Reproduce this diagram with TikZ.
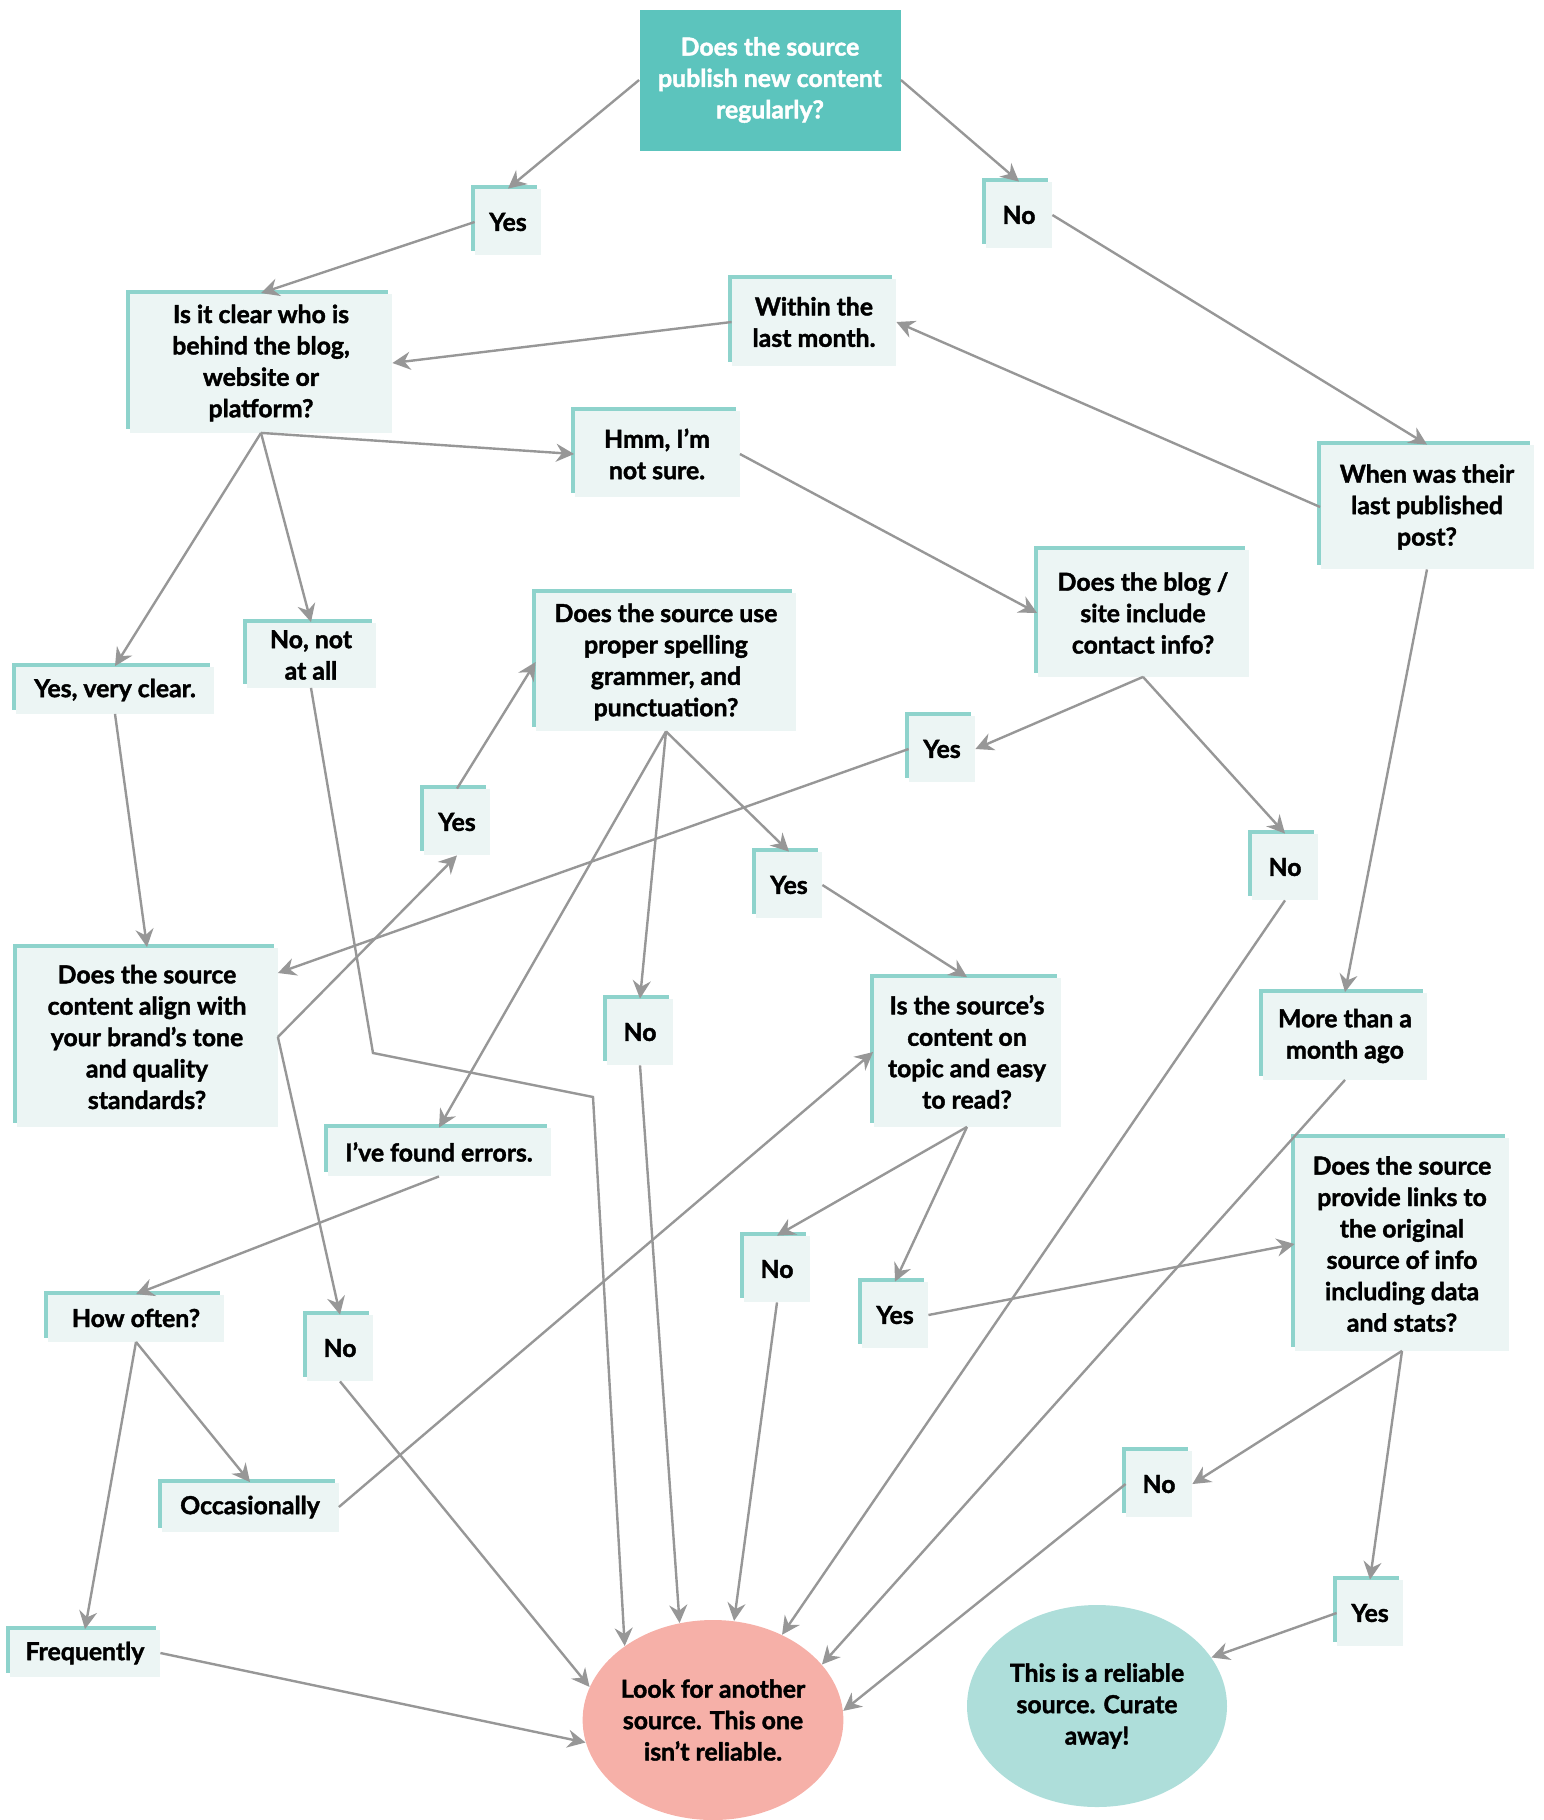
\documentclass[tikz,border=0pt]{standalone}
\usepackage{fontspec}
\setmainfont{Lato}[BoldFeatures={FakeBold=1.6}]
\usetikzlibrary{arrows.meta,shapes.geometric,shadows}
\definecolor{tealbox}{HTML}{5CC4BD}
\definecolor{tealline}{HTML}{8ED3CC}
\definecolor{palebox}{HTML}{ECF5F4}
\definecolor{redend}{HTML}{F6B0A8}
\definecolor{greenend}{HTML}{AEDEDA}
\definecolor{arrowgray}{HTML}{979797}
\tikzset{
  box/.style={rectangle, fill=palebox, inner sep=0pt, align=center,
    font=\fontsize{12.4}{15.7}\selectfont\bfseries,
    general shadow={fill=tealline, shadow xshift=-2pt, shadow yshift=2pt}},
  ans/.style={box, minimum width=33pt, minimum height=33pt},
  endbox/.style={ellipse, inner sep=0pt, align=center,
    font=\fontsize{12.4}{15.7}\selectfont\bfseries},
  link/.style={draw=arrowgray, line width=1.2pt,
    -{Stealth[length=9pt,width=9pt,inset=3pt]}},
}

\begin{document}
\begin{tikzpicture}[x=0.5pt,y=-0.5pt]
\useasboundingbox (0,0) rectangle (1543,1820);

% questions
\node[rectangle, fill=tealbox, text=white, inner sep=0pt, align=center,
  font=\fontsize{12.4}{15.7}\selectfont\bfseries,
  minimum width=130.5pt, minimum height=70.5pt] (q1) at (770,80)
  {Does the source\\publish new content\\regularly?};
\node[box, minimum width=131pt, minimum height=69.5pt] (qwho) at (261,363)
  {Is it clear who is\\behind the blog,\\website or\\platform?};
\node[box, minimum width=106.5pt, minimum height=62pt] (qlast) at (1427,507)
  {When was their\\last published\\post?};
\node[box, minimum width=105.5pt, minimum height=63.5pt] (qcontact) at (1143,613)
  {Does the blog /\\site include\\contact info?};
\node[box, minimum width=130pt, minimum height=69pt] (qspell) at (666,662)
  {Does the source use\\proper spelling\\grammer, and\\punctuation?};
\node[box, minimum width=130.5pt, minimum height=89.5pt] (qalign) at (147,1037)
  {Does the source\\content align with\\your brand’s tone\\and quality\\standards?};
\node[box, minimum width=93.5pt, minimum height=74.5pt] (qtopic) at (967,1052)
  {Is the source’s\\content on\\topic and easy\\to read?};
\node[box, minimum width=107pt, minimum height=106.5pt] (qlinks) at (1402,1244)
  {Does the source\\provide links to\\the original\\source of info\\including data\\and stats?};

% answers
\node[ans] (yes1) at (508,222) {Yes};
\node[ans] (no1) at (1019,215) {No};
\node[box, minimum width=82pt, minimum height=43.5pt] (within) at (814,322)
  {Within the\\last month.};
\node[box, minimum width=82.5pt, minimum height=43pt] (hmm) at (657,454)
  {Hmm, I’m\\not sure.};
\node[box, minimum width=99pt, minimum height=23.5pt] (yesclear) at (115,690)
  {Yes, very clear.};
\node[box, minimum width=64.5pt, minimum height=32.5pt] (nonot) at (311,655)
  {No, not\\at all};
\node[ans] (yes3) at (942,749) {Yes};
\node[ans] (yes2) at (457,822) {Yes};
\node[ans] (yes4) at (789,885) {Yes};
\node[ans] (no3) at (1285,867) {No};
\node[ans] (no2) at (640,1032) {No};
\node[box, minimum width=82pt, minimum height=43.5pt] (morethan) at (1345,1036)
  {More than a\\month ago};
\node[box, minimum width=111.5pt, minimum height=24pt] (errors) at (439,1152)
  {I’ve found errors.};
\node[box, minimum width=88pt, minimum height=23.5pt] (howoften) at (136,1318)
  {How often?};
\node[ans] (no4) at (340,1348) {No};
\node[ans] (no5) at (777,1269) {No};
\node[ans] (yes5) at (895,1315) {Yes};
\node[box, minimum width=88.5pt, minimum height=24.5pt] (occasionally) at (250,1507)
  {Occasionally};
\node[ans] (no6) at (1159,1484) {No};
\node[ans] (yes6) at (1370,1613) {Yes};
\node[box, minimum width=75pt, minimum height=23.5pt] (frequently) at (85,1653)
  {Frequently};

% outcomes
\node[endbox, fill=redend, minimum width=130pt, minimum height=100pt] (bad) at (713,1720)
  {Look for another\\source. This one\\isn’t reliable.};
\node[endbox, fill=greenend, minimum width=130pt, minimum height=101pt] (good) at (1097,1706)
  {This is a reliable\\source. Curate\\away!};

\coordinate (bendA) at (373,1053);
\coordinate (bendB) at (593,1097);

% connectors
\draw[link] (q1.west) -- (yes1.north);
\draw[link] (q1.east) -- (no1.north);
\draw[link] (yes1.west) -- (qwho.north);
\draw[link] (no1.east) -- (qlast.north);
\draw[link] (qlast.west) -- (within.east);
\draw[link] (within.west) -- (qwho.east);
\draw[link] (qwho.south) -- (hmm.west);
\draw[link] (qwho.south) -- (yesclear.north);
\draw[link] (qwho.south) -- (nonot.north);
\draw[link] (hmm.east) -- (qcontact.west);
\draw[link] (qcontact.south) -- (yes3.east);
\draw[link] (qcontact.south) -- (no3.north);
\draw[link] (yes3.west) -- ([yshift=32pt]qalign.east);
\draw[link] (yesclear.south) -- (qalign.north);
\draw[link] (nonot.south) -- (bendA) -- (bendB) -- (bad.140);
\draw[link] (qalign.east) -- (yes2.south);
\draw[link] (qalign.east) -- (no4.north);
\draw[link] (yes2.north) -- (qspell.west);
\draw[link] (qspell.south) -- (errors.north);
\draw[link] (qspell.south) -- (no2.north);
\draw[link] (qspell.south) -- (yes4.north);
\draw[link] (yes4.east) -- (qtopic.north);
\draw[link] (no2.south) -- (bad.109);
\draw[link] (errors.south) -- (howoften.north);
\draw[link] (howoften.south) -- (frequently.north);
\draw[link] (howoften.south) -- (occasionally.north);
\draw[link] (occasionally.east) -- (qtopic.west);
\draw[link] (frequently.east) -- (bad.190);
\draw[link] (no4.south) -- (bad.165);
\draw[link] (qtopic.south) -- (no5.north);
\draw[link] (qtopic.south) -- (yes5.north);
\draw[link] (no5.south) -- (bad.78);
\draw[link] (yes5.east) -- (qlinks.west);
\draw[link] (no3.south) -- (bad.51);
\draw[link] (qlast.south) -- (morethan.north);
\draw[link] (morethan.south) -- (bad.27);
\draw[link] (qlinks.south) -- (no6.east);
\draw[link] (qlinks.south) -- (yes6.north);
\draw[link] (no6.west) -- (bad.4);
\draw[link] (yes6.west) -- (good.23);
\end{tikzpicture}
\end{document}
